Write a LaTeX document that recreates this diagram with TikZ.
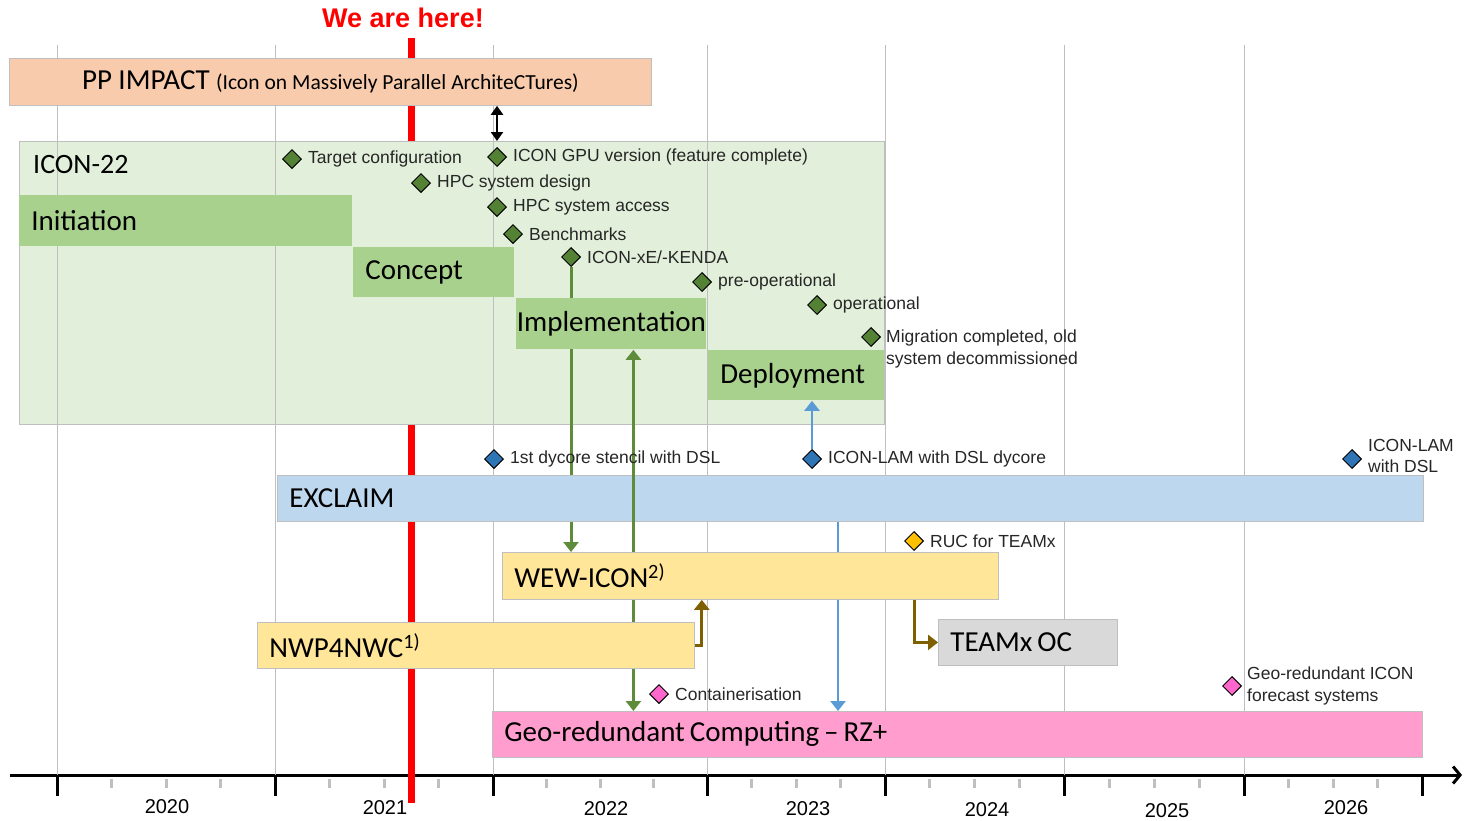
\documentclass[tikz,border=0pt]{standalone}
\usepackage{fontspec}
\setmainfont{Liberation Sans}
\newfontfamily\calibri{Carlito}
\usetikzlibrary{shapes.geometric, arrows.meta, positioning, calc}
\definecolor{impactpeach}{RGB}{248,203,173}
\definecolor{iconpale}{RGB}{226,239,218}
\definecolor{phasegreen}{RGB}{169,209,142}
\definecolor{msgreen}{RGB}{84,130,53}
\definecolor{linkgreen}{RGB}{94,140,58}
\definecolor{exclaimblue}{RGB}{189,215,238}
\definecolor{msblue}{RGB}{46,117,182}
\definecolor{linkblue}{RGB}{91,155,213}
\definecolor{wewyellow}{RGB}{255,230,153}
\definecolor{msyellow}{RGB}{255,192,0}
\definecolor{linkbrown}{RGB}{127,96,0}
\definecolor{teamxgray}{RGB}{217,217,217}
\definecolor{geopink}{RGB}{255,158,206}
\definecolor{mspink}{RGB}{255,102,204}
\definecolor{gridgray}{RGB}{191,191,191}
\definecolor{textgray}{RGB}{38,38,38}
\pgfdeclarelayer{base}
\pgfdeclarelayer{links}
\pgfsetlayers{base,links,main}

\tikzset{
  bar/.style={anchor=north west, inner xsep=12pt, inner ysep=0pt, align=left, draw=gridgray, line width=0.8pt,
    font=\calibri\fontsize{29}{32}\selectfont, execute at begin node={\spaceskip=0.17em plus 0.05em\relax}},
  phase/.style={bar, draw=none, fill=phasegreen},
  milestone/.style={diamond, draw=black, line width=1pt, minimum size=19pt, inner sep=0pt},
  mslabel/.style={inner sep=1pt, align=left, text=textgray, font=\fontsize{17.5}{21.5}\selectfont},
  link/.style={line width=3pt, -{Triangle[width=15pt,length=10pt]}},
}

\begin{document}
\begin{tikzpicture}[x=1pt, y=-1pt]
  \useasboundingbox (0,0) rectangle (1464,820);

  \begin{pgfonlayer}{base}
    % time axis
    \draw[line width=3pt, -{Straight Barb[length=7pt, width=17pt]}] (10,775) -- (1462,775);
    \foreach \tx in {57,275,493,707,885,1064,1244,1422}
      \draw[line width=3pt] (\tx,775) -- (\tx,796);
    \foreach \a/\b in {57/275,275/493,493/707,707/885,885/1064,1064/1244,1244/1422}
      \foreach \k in {1,2,3}
        \draw[gridgray, line width=3pt] ({\a+\k*(\b-\a)/4},779) -- ++(0,9);
    \foreach \yr/\x/\y in {2020/167/807,2021/385/808,2022/606/809,2023/808/809,2024/987/810,2025/1167/811,2026/1346/808}
      \node[font=\fontsize{20}{24}\selectfont] (y\yr) at (\x,\y) {\yr};

    % today
    \node[text=red, font=\bfseries\fontsize{27}{30}\selectfont] (here) at (403,18) {We are here!};
    \draw[red, line width=7pt] (411,38) -- (411,803);

    \node[draw=gridgray, fill=iconpale, anchor=north west, minimum width=865pt, minimum height=283pt, inner sep=0pt] (icon22) at (19,141) {};
    \foreach \gx in {57,275,493,707,885,1064,1244}
      \draw[gridgray, line width=1pt] (\gx,45) -- (\gx,775);
  \end{pgfonlayer}

  \node[bar, fill=impactpeach, align=center, text width=618pt, minimum height=47pt] (impact) at (9,58)
    {PP IMPACT {\fontsize{21.5}{24}\selectfont\spaceskip=0.18em plus 0.05em\relax (Icon on Massively Parallel ArchiteCTures)}};
  \node[anchor=west, inner sep=0pt, font=\calibri\fontsize{28}{32}\selectfont] (icon22-t) at ([shift={(14,24)}]icon22.north west) {ICON-22};

  \node[phase, text width=309pt, minimum height=51pt] (init) at (19,195) {Initiation};
  \node[phase, text width=137pt, minimum height=50pt] (concept) at (353,247) {Concept};
  \node[phase, align=center, inner xsep=0pt, text width=190pt, minimum height=51pt] (impl) at (516,298) {Implementation};
  \node[phase, text width=152pt, minimum height=50pt] (deploy) at (708,350) {Deployment};

  \node[bar, fill=exclaimblue, text width=1122pt, minimum height=46pt] (exclaim) at (277,475) {EXCLAIM};
  \node[bar, fill=geopink, text width=906pt, minimum height=46pt] (geo) at (492,711) {Geo-redundant Computing – RZ+};

  \draw[link, linkgreen, {Triangle[width=15pt,length=10pt]}-{Triangle[width=15pt,length=10pt]}]
    ($(impl.south)+(22,0)$) -- ($(impl.south |- geo.north)+(22,0)$);

  \node[bar, fill=wewyellow, text width=472pt, minimum height=47pt] (wew) at (502,552) {WEW-ICON\textsuperscript{2)}};
  \node[bar, fill=wewyellow, text width=413pt, minimum height=46pt] (nwp) at (257,622) {NWP4NWC\textsuperscript{1)}};
  \node[bar, fill=teamxgray, text width=155pt, minimum height=46pt] (teamx) at (938,619) {TEAMx OC};

  % milestones
  \foreach \ms/\x/\y/\txt in {target/292/159/Target configuration, gpu/497/157/ICON GPU version (feature complete),
      design/421/183/HPC system design, access/497/207/HPC system access, bench/513/234/Benchmarks,
      kenda/571/257/ICON-xE\slash-KENDA, preop/702/282/pre-operational, oper/817/305/operational} {
    \node[milestone, fill=msgreen] (\ms) at (\x,\y) {};
    \node[mslabel, right=5pt of \ms] (\ms-t) {\txt};
  }
  \node[milestone, fill=msgreen] (migr) at (871,337) {};
  \node[mslabel, anchor=north west] (migr-t) at ($(migr.east)+(4,-8)$) {Migration completed, old\\system decommissioned};

  \node[milestone, fill=msblue] (dycore) at (494,459) {};
  \node[mslabel, right=5pt of dycore] (dycore-t) {1st dycore stencil with DSL};
  \node[milestone, fill=msblue] (lam) at (812,459) {};
  \node[mslabel, right=5pt of lam] (lam-t) {ICON-LAM with DSL dycore};
  \node[milestone, fill=msblue] (lamdsl) at (1352,459) {};
  \node[mslabel, right=5pt of lamdsl, yshift=3pt] (lamdsl-t) {ICON-LAM\\with DSL};

  \node[milestone, fill=msyellow] (ruc) at (914,541) {};
  \node[mslabel, right=5pt of ruc] (ruc-t) {RUC for TEAMx};

  \node[milestone, fill=mspink] (cont) at (659,694) {};
  \node[mslabel, right=5pt of cont] (cont-t) {Containerisation};
  \node[milestone, fill=mspink] (georeg) at (1232,686) {};
  \node[mslabel, right=4pt of georeg] (georeg-t) {Geo-redundant ICON\\forecast systems};

  % links
  \draw[line width=2.5pt, {Triangle[width=12pt,length=9pt]}-{Triangle[width=12pt,length=9pt]}] (impact.south -| gpu) -- (icon22.north -| gpu);
  \draw[link, linkblue, line width=2.5pt] (lam.north) -- (lam |- deploy.south);
  \draw[link, linkbrown] (nwp.east) -| ($(nwp.east |- wew.south)+(7,0)$);
  \draw[link, linkbrown] (ruc |- wew.south) |- (teamx.west);

  \begin{pgfonlayer}{links}
    \draw[link, linkgreen] (kenda.south) -- (kenda |- wew.north);
    \draw[link, linkblue, line width=2.5pt] ($(lam |- exclaim.south)+(26,0)$) -- ($(lam |- geo.north)+(26,0)$);
  \end{pgfonlayer}
\end{tikzpicture}
\end{document}
